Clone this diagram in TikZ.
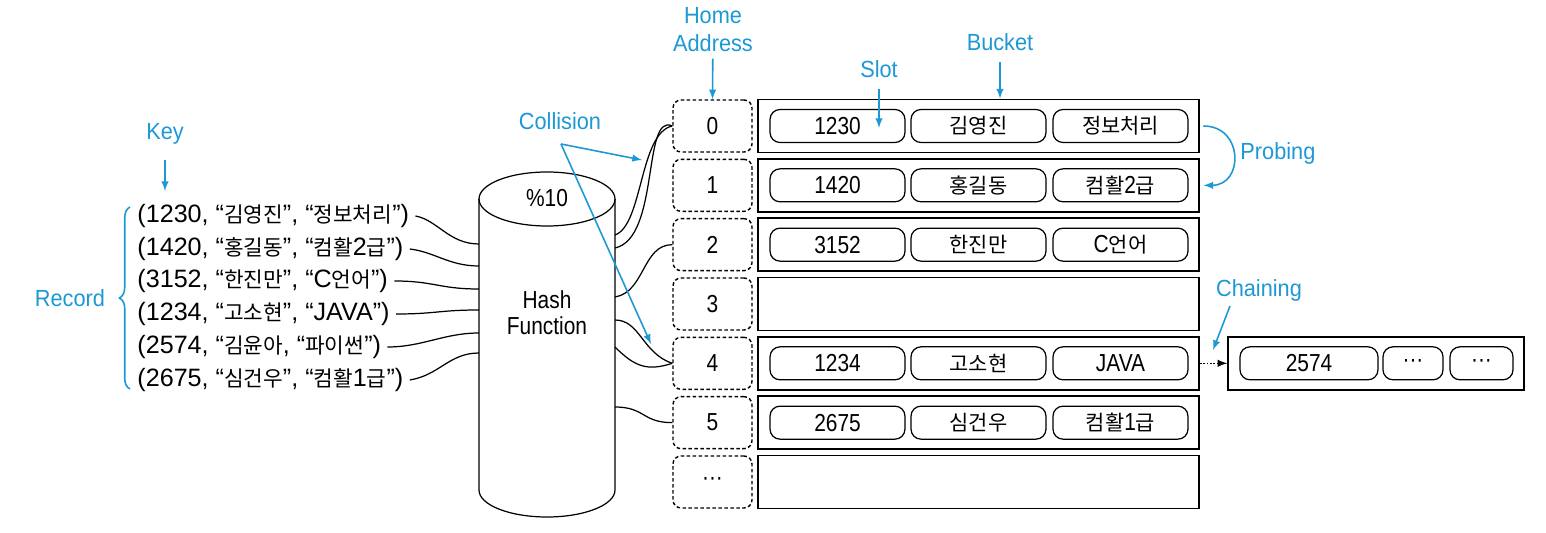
\documentclass[tikz,border=0pt]{standalone}
\usepackage{fontspec}
\setmainfont{Liberation Sans}[FakeStretch=0.85]
\newfontfamily\satzfont{Liberation Sans}
\newfontfamily\blaufont{Liberation Sans}[FakeStretch=0.93]
\newfontfamily\krfont{Noto Sans CJK KR}[Scale=0.85]
\newcommand{\kr}[1]{{\krfont #1}}
\usetikzlibrary{decorations.pathreplacing}
\definecolor{hashblau}{RGB}{28,152,212}
\tikzset{
  adresse/.style={draw, dash pattern=on 2pt off 1.4pt, line width=0.8pt, rounded corners=0.16cm,
    minimum width=1.58cm, minimum height=1.04cm, font=\fontsize{14}{16}\selectfont},
  eimer/.style={draw, line width=1.1pt, minimum width=8.82cm, minimum height=1.06cm},
  fach/.style={draw, line width=0.7pt, rounded corners=0.2cm, inner sep=2pt,
    minimum width=2.7cm, minimum height=0.66cm, font=\fontsize{14}{16}\selectfont},
  satz/.style={anchor=west, font=\satzfont\fontsize{14.3}{16}\selectfont},
  blau/.style={text=hashblau, font=\blaufont\fontsize{13.3}{16}\selectfont},
  pfeil/.style={draw=hashblau, line width=0.9pt, -latex},
}
\begin{document}
\begin{tikzpicture}[x=0.02cm, y=-0.02cm, line width=0.7pt]
	\useasboundingbox (0,0) rectangle (1546,533);
	% Tabelle: Home Address und Bucket
	\foreach \i/\n in {0/0,1/1,2/2,3/3,4/4,5/5,6/···} {
		\node[adresse] (a\i) at (712.5,126+59.33*\i) {\n};
		\node[eimer] (b\i) at (978.5,126+59.33*\i) {};
	}
	% Slots in den Buckets
	\foreach \i/\a/\b/\c in {0/1230/\kr{김영진}/\kr{정보처리},1/1420/\kr{홍길동}/{\kr{컴활}2\kr{급}},2/3152/\kr{한진만}/{C\kr{언어}},4/1234/\kr{고소현}/JAVA,5/2675/\kr{심건우}/{\kr{컴활}1\kr{급}}} {
		\node[fach] (s\i-1) at (837.5,126+59.33*\i) {\a};
		\node[fach] (s\i-2) at (978.5,126+59.33*\i) {\b};
		\node[fach] (s\i-3) at (1120.5,126+59.33*\i) {\c};
	}
	% Kette an Bucket 4
	\node[eimer, line width=0.8pt, minimum width=5.92cm] (kette) at (1376,126+59.33*4) {};
	\node[fach, minimum width=2.76cm] (k1) at (1309,126+59.33*4) {2574};
	\node[fach, minimum width=1.2cm] (k2) at (1413,126+59.33*4) {···};
	\node[fach, minimum width=1.26cm] (k3) at (1481.5,126+59.33*4) {···};
	\draw[densely dotted, line width=0.9pt, -latex] (b4.east) -- (kette.west);
	% Datensaetze
	\foreach \i/\y/\t in {1/216/{(1230, “\kr{김영진}”, “\kr{정보처리}”)},2/249/{(1420, “\kr{홍길동}”, “\kr{컴활}2\kr{급}”)},3/281/{(3152, “\kr{한진만}”, “C\kr{언어}”)},4/314/{(1234, “\kr{고소현}”, “JAVA”)},5/347/{(2574, “\kr{김윤아}, “\kr{파이썬}”)},6/380/{(2675, “\kr{심건우}”, “\kr{컴활}1\kr{급}”)}}
		\node[satz] (r\i) at (131,\y) {\t};
	% Hash-Funktion (Zylinder)
	\draw (547,199) ellipse (68 and 27);
	\draw (479,199) -- (479,490) arc[start angle=180, end angle=0, x radius=68, y radius=27] -- (615,199);
	\node (mod) at (547,198) {\fontsize{14}{16}\selectfont\%10};
	\node[align=center, font=\fontsize{14}{15}\selectfont] (hf) at (547,313) {Hash\\Function};
	\foreach \n/\y in {l1/244,l2/266,l3/289,l4/310,l5/333,l6/353}
		\coordinate (h\n) at (479,\y);
	\foreach \n/\y in {r0/235,r0b/248,r2/297,r4/320,r4b/347,r5/407}
		\coordinate (h\n) at (615,\y);
	% Linien links
	\draw (r1.east) .. controls +(22,4) and +(-30,0) .. (hl1);
	\draw (r2.east) .. controls +(25,3) and +(-30,0) .. (hl2);
	\draw (r3.east) .. controls +(40,0) and +(-40,0) .. (hl3);
	\draw (r4.east) .. controls +(40,0) and +(-40,0) .. (hl4);
	\draw (r5.east) .. controls +(35,0) and +(-35,0) .. (hl5);
	\draw (r6.east) .. controls +(30,-5) and +(-30,0) .. (hl6);
	% Linien rechts
	\draw (hr0) .. controls +(28,-10) and +(-33,7) .. (a0.west);
	\draw (hr0b) .. controls +(45,-10) and +(-30,-14) .. (a0.west);
	\draw (hr2) .. controls +(30,-5) and +(-30,0) .. (a2.west);
	\draw (hr4) .. controls +(25,0) and +(-30,-10) .. (a4.west);
	\draw (hr4b) .. controls +(20,20) and +(-25,8) .. (a4.west);
	\draw (hr5) .. controls +(30,0) and +(-30,0) .. (a5.west);
	% Beschriftungen
	\node[blau] (key) at (165,134) {Key};
	\coordinate (keyend) at (165,191);
	\draw[pfeil, shorten <=5pt] (key) -- (keyend);
	\node[blau] (record) at (70,298) {Record};
	\draw[hashblau, line width=0.9pt, decorate, decoration={brace, amplitude=6pt}] (130,389) -- (130,207);
	\node[blau, align=center] (home) at (713,30) {Home\\Address};
	\draw[pfeil] (home) -- (a0.north);
	\node[blau] (lbucket) at (1000,42) {Bucket};
	\draw[pfeil, shorten <=3pt] (lbucket) -- (lbucket |- b0.north);
	\node[blau] (lslot) at (879,69) {Slot};
	\coordinate (slotend) at (879,128);
	\draw[pfeil, shorten <=3pt] (lslot) -- (slotend);
	\node[blau] (kollision) at (560,121) {Collision};
	\coordinate (kol) at (561,144);
	\coordinate (kol0) at (642,160);
	\coordinate (kol4) at (651,344);
	\draw[pfeil] (kol) -- (kol0);
	\draw[pfeil] (kol) -- (kol4);
	\node[blau, anchor=west] (probing) at (1234,153) {Probing};
	\draw[pfeil, shorten <=2pt, shorten >=2pt] (b0.east) to[out=0, in=0, looseness=1.9] (b1.east);
	\node[blau] (chaining) at (1259,290) {Chaining};
	\coordinate (ch0) at (1230,306);
	\coordinate (ch1) at (1213,350);
	\draw[pfeil] (ch0) -- (ch1);
\end{tikzpicture}
\end{document}
